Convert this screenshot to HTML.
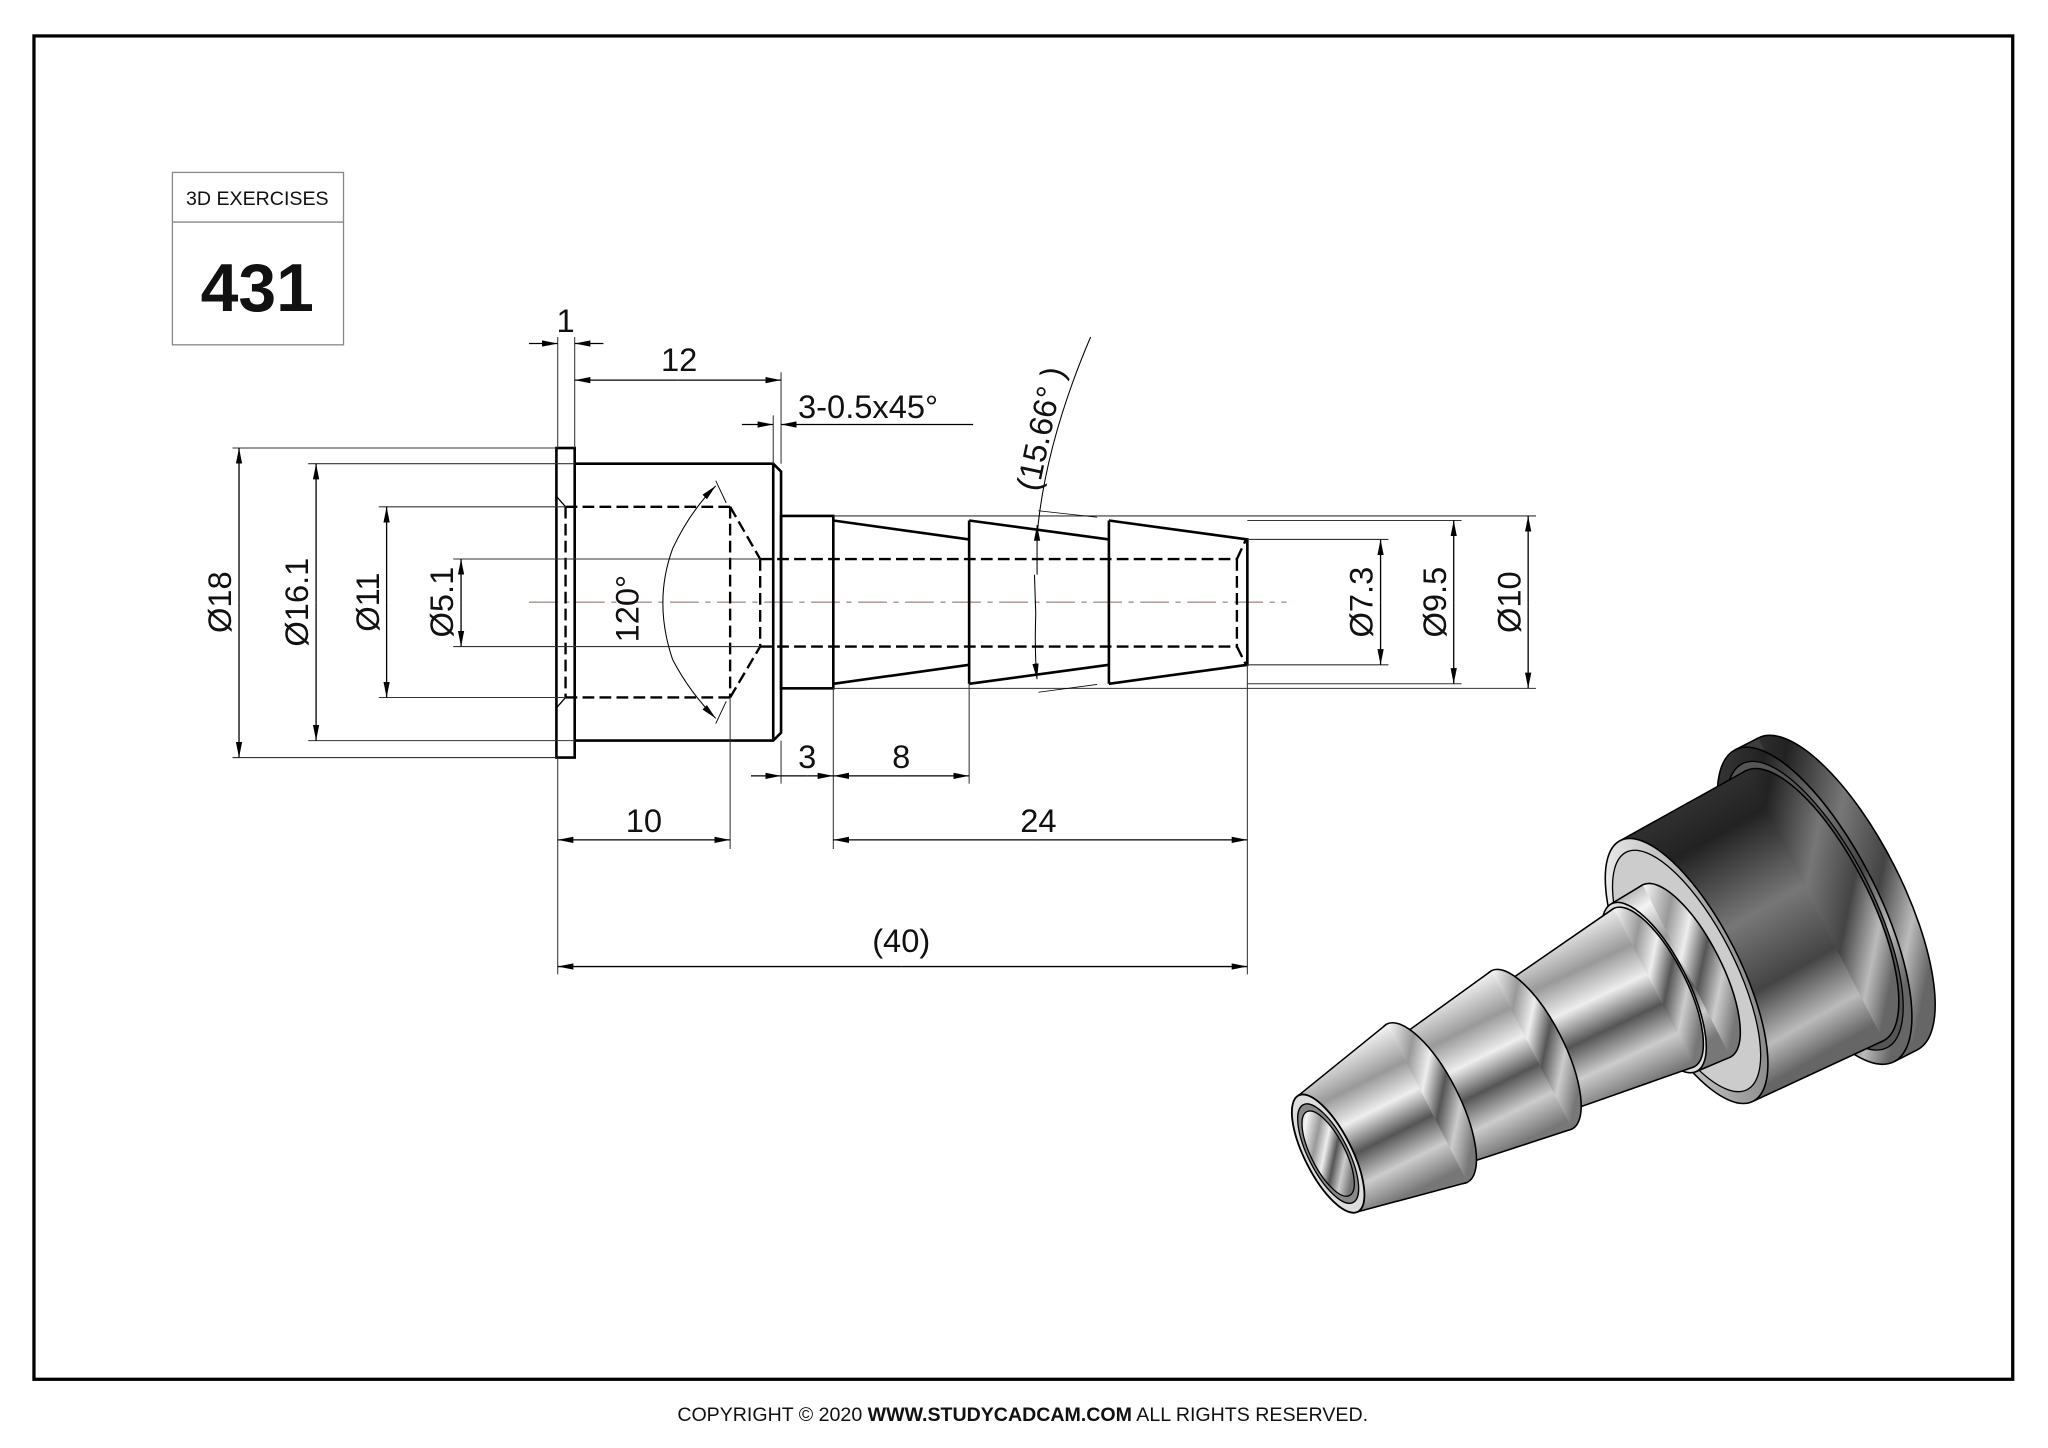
<!DOCTYPE html>
<html><head><meta charset="utf-8">
<style>
html,body{margin:0;padding:0;background:#fff;}
svg{display:block;}
text{font-family:"Liberation Sans",sans-serif;fill:#111;}
.d{font-size:25px;}
</style></head>
<body>
<svg id="s" width="2048" height="1448" viewBox="0 0 1568 1108.6" xmlns="http://www.w3.org/2000/svg">
<defs>
<marker id="a" viewBox="0 0 12 6" refX="12" refY="3" markerWidth="12" markerHeight="6" markerUnits="userSpaceOnUse" orient="auto-start-reverse"><path d="M0,0.6 L12,3 L0,5.4 Z" fill="#000"/></marker>
<linearGradient id="gDark" x1="0" y1="0" x2="0.45" y2="1">
<stop offset="0" stop-color="#444"/><stop offset="0.3" stop-color="#222"/><stop offset="0.55" stop-color="#777"/><stop offset="0.75" stop-color="#444"/><stop offset="0.9" stop-color="#bbb"/><stop offset="1" stop-color="#666"/></linearGradient>
<linearGradient id="gSil" x1="0" y1="0" x2="0.45" y2="1">
<stop offset="0" stop-color="#888"/><stop offset="0.2" stop-color="#f4f4f4"/><stop offset="0.4" stop-color="#999"/><stop offset="0.55" stop-color="#eee"/><stop offset="0.7" stop-color="#555"/><stop offset="0.85" stop-color="#ccc"/><stop offset="1" stop-color="#777"/></linearGradient>
<linearGradient id="gFace" x1="0" y1="0" x2="1" y2="1">
<stop offset="0" stop-color="#fff"/><stop offset="0.5" stop-color="#bbb"/><stop offset="1" stop-color="#777"/></linearGradient>
</defs>
<rect x="26" y="27.5" width="1515" height="1028.5" fill="none" stroke="#000" stroke-width="2.5"/>
<rect x="132" y="132" width="131" height="132" fill="none" stroke="#888" stroke-width="1"/>
<line x1="132" y1="170" x2="263" y2="170" stroke="#888" stroke-width="1"/>
<text x="197" y="157" font-size="15" text-anchor="middle">3D EXERCISES</text>
<text x="197" y="238" font-size="52" font-weight="bold" text-anchor="middle">431</text>
<text x="783" y="1088" font-size="15" text-anchor="middle">COPYRIGHT © 2020 <tspan font-weight="bold">WWW.STUDYCADCAM.COM</tspan> ALL RIGHTS RESERVED.</text>

<g fill="none" stroke="#000">
<line x1="405" y1="461" x2="985" y2="461" stroke="#866" stroke-width="0.8" stroke-dasharray="22,5,4,5"/>
<g stroke-width="2">
<rect x="426" y="343" width="14" height="237"/>
<path d="M440,355 H592 L598,361 V561 L592,567 H440"/>
<line x1="592" y1="355" x2="592" y2="567"/>
<rect x="598" y="395" width="40" height="132"/>
<path d="M638,398.5 L742,413 M638,523.5 L742,509"/>
<path d="M742,398.5 V523.5 M742,398.5 L849,413 M742,523.5 L849,509"/>
<path d="M849,398.5 V523.5 M849,398.5 L955,413 V509 L849,523.5"/>
</g>
<g stroke-width="1.8" stroke-dasharray="9,4">
<path d="M433,388 H559 M433,534 H559 M433,388 V534 M559,388 V534"/>
<path d="M559,388 L582,428 M559,534 L582,495 M582,428 V495"/>
<path d="M582,428 H947 M582,495 H947 M947,428 L954,413 M947,495 L954,509 M947,428 V495"/>
</g>
<path d="M426,380 L433,388 M426,542 L433,534" stroke-width="1"/>

<g stroke-width="0.8" stroke="#333">
<line x1="427" y1="258" x2="427" y2="343"/><line x1="440" y1="258" x2="440" y2="343"/>
<line x1="598" y1="285" x2="598" y2="355"/><line x1="592" y1="318" x2="592" y2="355"/>
<line x1="178" y1="343" x2="426" y2="343"/><line x1="178" y1="580" x2="426" y2="580"/>
<line x1="236" y1="355" x2="440" y2="355"/><line x1="236" y1="567" x2="440" y2="567"/>
<line x1="290" y1="388" x2="433" y2="388"/><line x1="290" y1="534" x2="433" y2="534"/>
<line x1="347" y1="428" x2="582" y2="428"/><line x1="347" y1="495" x2="582" y2="495"/>
<line x1="955" y1="413" x2="1063" y2="413"/><line x1="955" y1="509" x2="1063" y2="509"/>
<line x1="955" y1="398.5" x2="1119" y2="398.5"/><line x1="955" y1="523.5" x2="1119" y2="523.5"/>
<line x1="638" y1="395" x2="1176" y2="395"/><line x1="638" y1="527" x2="1176" y2="527"/>
<line x1="598" y1="567" x2="598" y2="600"/><line x1="638" y1="527" x2="638" y2="650"/>
<line x1="742" y1="523" x2="742" y2="600"/><line x1="559" y1="534" x2="559" y2="650"/>
<line x1="427" y1="580" x2="427" y2="746"/><line x1="955" y1="509" x2="955" y2="746"/>
</g>
<g stroke-width="1" marker-end="url(#a)">
<line x1="405" y1="263" x2="427" y2="263"/><line x1="462" y1="263" x2="440" y2="263"/>
<line x1="519" y1="291" x2="440" y2="291"/><line x1="519" y1="291" x2="598" y2="291"/>
<line x1="568" y1="325" x2="592" y2="325"/><line x1="745" y1="325" x2="598" y2="325"/>
<line x1="183" y1="461" x2="183" y2="343"/><line x1="183" y1="461" x2="183" y2="580"/>
<line x1="242" y1="461" x2="242" y2="355"/><line x1="242" y1="461" x2="242" y2="567"/>
<line x1="296" y1="461" x2="296" y2="388"/><line x1="296" y1="461" x2="296" y2="534"/>
<line x1="353" y1="461" x2="353" y2="428"/><line x1="353" y1="461" x2="353" y2="495"/>
<line x1="1057" y1="461" x2="1057" y2="413"/><line x1="1057" y1="461" x2="1057" y2="509"/>
<line x1="1113" y1="461" x2="1113" y2="398.5"/><line x1="1113" y1="461" x2="1113" y2="523.5"/>
<line x1="1170" y1="461" x2="1170" y2="395"/><line x1="1170" y1="461" x2="1170" y2="527"/>
<line x1="575" y1="594" x2="598" y2="594"/><line x1="618" y1="594" x2="638" y2="594"/>
<line x1="690" y1="594" x2="638" y2="594"/><line x1="690" y1="594" x2="742" y2="594"/>
<line x1="493" y1="643" x2="427" y2="643"/><line x1="493" y1="643" x2="559" y2="643"/>
<line x1="795" y1="643" x2="638" y2="643"/><line x1="795" y1="643" x2="955" y2="643"/>
<line x1="690" y1="740" x2="427" y2="740"/><line x1="690" y1="740" x2="955" y2="740"/>
</g>
<line x1="598" y1="594" x2="618" y2="594" stroke-width="1"/>
<path d="M515,420 Q500,461 515,505" stroke-width="0.8"/>
<path d="M515,420 Q528,392 548,372" stroke-width="0.8" marker-end="url(#a)"/>
<path d="M515,505 Q528,530 548,550" stroke-width="0.8" marker-end="url(#a)"/>
<line x1="548" y1="368" x2="556" y2="385" stroke-width="0.7"/>
<line x1="548" y1="554" x2="556" y2="537" stroke-width="0.7"/>
<path d="M835,258 Q800,340 794,410" stroke-width="0.8"/>
<path d="M794,440 L794,402" stroke-width="0.8" marker-end="url(#a)"/>
<path d="M793,470 Q792,500 794,520" stroke-width="0.8" marker-end="url(#a)"/>
<line x1="792" y1="440" x2="793" y2="470" stroke-width="0.8"/>
<line x1="795" y1="391" x2="840" y2="396" stroke-width="0.6"/>
<line x1="795" y1="530" x2="840" y2="524" stroke-width="0.6"/>
</g>

<g class="d">
<text x="433" y="254" text-anchor="middle">1</text>
<text x="520" y="284" text-anchor="middle">12</text>
<text x="611" y="320">3-0.5x45°</text>
<text x="618" y="588" text-anchor="middle">3</text>
<text x="690" y="588" text-anchor="middle">8</text>
<text x="493" y="637" text-anchor="middle">10</text>
<text x="795" y="637" text-anchor="middle">24</text>
<text x="690" y="729" text-anchor="middle">(40)</text>
<text transform="translate(177,461) rotate(-90)" text-anchor="middle">Ø18</text>
<text transform="translate(236,461) rotate(-90)" text-anchor="middle">Ø16.1</text>
<text transform="translate(290,461) rotate(-90)" text-anchor="middle">Ø11</text>
<text transform="translate(347,461) rotate(-90)" text-anchor="middle">Ø5.1</text>
<text transform="translate(1051,461) rotate(-90)" text-anchor="middle">Ø7.3</text>
<text transform="translate(1107,461) rotate(-90)" text-anchor="middle">Ø9.5</text>
<text transform="translate(1164,461) rotate(-90)" text-anchor="middle">Ø10</text>
<text transform="translate(489,466) rotate(-90)" text-anchor="middle">120°</text>
<text transform="translate(805,330) rotate(-78)" text-anchor="middle">(15.66°  )</text>
</g>
<g id="iso"></g>
</svg>
<script>
(function(){
var O=[1400,688],d=[-0.891,0.454],n=[0.454,0.891],k=0.36;
var g=document.getElementById('iso'),NS='http://www.w3.org/2000/svg';
function c(t){return [O[0]+t*d[0],O[1]+t*d[1]];}
function el(tag,at){var e=document.createElementNS(NS,tag);for(var a in at)e.setAttribute(a,at[a]);g.appendChild(e);return e;}
function ell(t,r,fill,sw){var p=c(t);el('ellipse',{cx:p[0],cy:p[1],rx:r*k,ry:r,transform:'rotate(-27 '+p[0]+' '+p[1]+')',fill:fill,stroke:'#000','stroke-width':sw||1.2});}
function fr(t1,r1,t2,r2,fill){var a=c(t1),b=c(t2);
 ell(t1,r1,fill,1.2);
 var pts=[[a[0]-r1*n[0],a[1]-r1*n[1]],[b[0]-r2*n[0],b[1]-r2*n[1]],[b[0]+r2*n[0],b[1]+r2*n[1]],[a[0]+r1*n[0],a[1]+r1*n[1]]];
 el('polygon',{points:pts.map(function(p){return p.join(',')}).join(' '),fill:fill,stroke:'none'});
 el('line',{x1:pts[0][0],y1:pts[0][1],x2:pts[1][0],y2:pts[1][1],stroke:'#000','stroke-width':1.2});
 el('line',{x1:pts[2][0],y1:pts[2][1],x2:pts[3][0],y2:pts[3][1],stroke:'#000','stroke-width':1.2});
}
fr(-8,134,12,134,'url(#gDark)'); ell(12,134,'url(#gDark)',1.2); ell(12,122,'#555',1);
fr(12,116,122,112,'url(#gDark)'); ell(122,112,'url(#gFace)',1.2); ell(122,102,'#ccc',1);
fr(122,74,150,72,'url(#gSil)'); ell(150,72,'#ddd',1.2);
fr(150,68,255,54,'url(#gSil)');
fr(255,68,345,54,'url(#gSil)');
fr(345,68,430,50,'url(#gSil)');
ell(430,50,'#ddd',1.4); ell(430,42,'#888',1); ell(430,36,'url(#gSil)',1);
})();
</script>
</body></html>
